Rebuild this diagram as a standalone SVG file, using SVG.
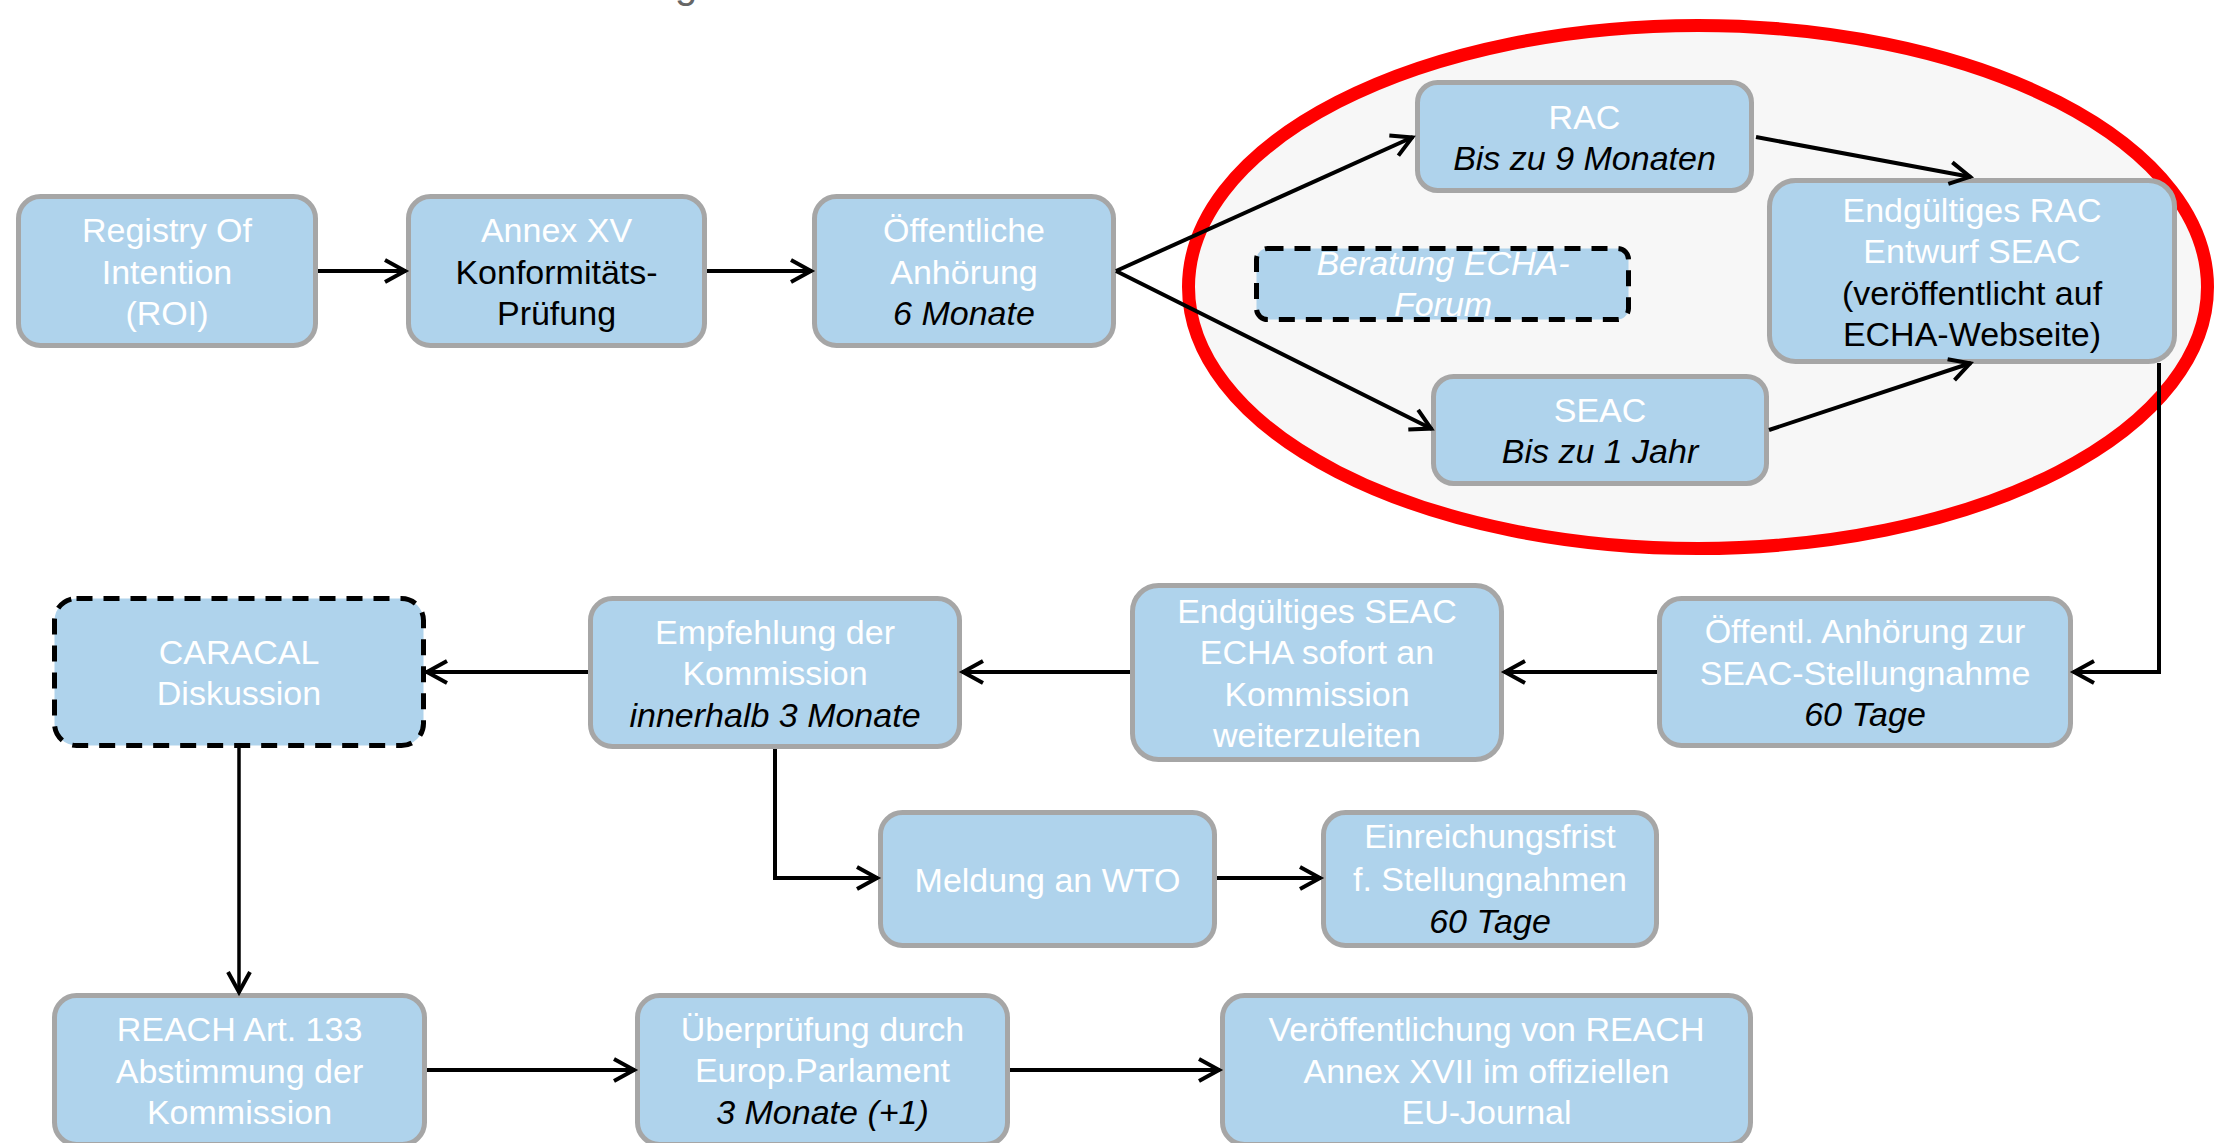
<svg xmlns="http://www.w3.org/2000/svg" width="2216" height="1143" viewBox="0 0 2216 1143">
<style>
.box{fill:#afd3ec;stroke:#a6a6a6;stroke-width:5}
.dbox{fill:#afd3ec;stroke:#000;stroke-width:5;stroke-dasharray:16 11}
text{font-family:"Liberation Sans",Arial,sans-serif;font-size:34px;text-anchor:middle}
.w{fill:#fff}
.k{fill:#000}
.i{font-style:italic}
.c{fill:none;stroke:#000;stroke-width:4;marker-end:url(#ah)}
</style>
<defs>
<marker id="ah" viewBox="-26 -16 32 32" markerWidth="32" markerHeight="32" refX="1" refY="0" orient="auto" markerUnits="userSpaceOnUse">
<path d="M-20,-11 L0,0 L-20,11" fill="none" stroke="#000" stroke-width="4"/>
</marker>
</defs>
<rect width="2216" height="1143" fill="#fff"/>
<text x="686" y="-2" style="font-size:40px;fill:#666">g</text>
<ellipse id="highlight" cx="1698" cy="287" rx="509.5" ry="261.5" fill="#f7f7f7" stroke="#ff0000" stroke-width="13"/>

<g id="roi"><rect class="box" x="18.5" y="196.5" width="297" height="149" rx="22"/>
<text class="w" x="167" y="242">Registry Of</text><text class="w" x="167" y="283.5">Intention</text><text class="w" x="167" y="325">(ROI)</text></g>

<g id="annex"><rect class="box" x="408.5" y="196.5" width="296" height="149" rx="22"/>
<text class="w" x="556.5" y="242">Annex XV</text><text class="k" x="556.5" y="283.5">Konformitäts-</text><text class="k" x="556.5" y="325">Prüfung</text></g>

<g id="oeff"><rect class="box" x="814.5" y="196.5" width="299" height="149" rx="22"/>
<text class="w" x="964" y="242">Öffentliche</text><text class="w" x="964" y="283.5">Anhörung</text><text class="k i" x="964" y="325">6 Monate</text></g>

<g id="rac"><rect class="box" x="1417.5" y="82.5" width="334" height="108" rx="20"/>
<text class="w" x="1584.5" y="128.5">RAC</text><text class="k i" x="1584.5" y="169.5">Bis zu 9 Monaten</text></g>

<g id="beratung"><rect class="dbox" x="1256.5" y="248.5" width="372" height="71" rx="11"/>
<text class="w i" x="1443" y="275">Beratung ECHA-</text><text class="w i" x="1443" y="316">Forum</text></g>

<g id="seac"><rect class="box" x="1433.5" y="376.5" width="333" height="107" rx="20"/>
<text class="w" x="1600" y="421.5">SEAC</text><text class="k i" x="1600" y="463">Bis zu 1 Jahr</text></g>

<g id="final-rac"><rect class="box" x="1769.5" y="180.5" width="405" height="181" rx="26"/>
<text class="w" x="1972" y="221.5">Endgültiges RAC</text><text class="w" x="1972" y="263">Entwurf SEAC</text><text class="k" x="1972" y="304.5">(veröffentlicht auf</text><text class="k" x="1972" y="346">ECHA-Webseite)</text></g>

<g id="caracal"><rect class="dbox" x="54.5" y="598.5" width="369" height="147" rx="22"/>
<text class="w" x="239" y="663.5">CARACAL</text><text class="w" x="239" y="705">Diskussion</text></g>

<g id="empfehlung"><rect class="box" x="590.5" y="598.5" width="369" height="148" rx="22"/>
<text class="w" x="775" y="643.5">Empfehlung der</text><text class="w" x="775" y="685">Kommission</text><text class="k i" x="775" y="726.5">innerhalb 3 Monate</text></g>

<g id="final-seac"><rect class="box" x="1132.5" y="585.5" width="369" height="174" rx="26"/>
<text class="w" x="1317" y="622.5">Endgültiges SEAC</text><text class="w" x="1317" y="664">ECHA sofort an</text><text class="w" x="1317" y="705.5">Kommission</text><text class="w" x="1317" y="747">weiterzuleiten</text></g>

<g id="oeffentl-seac"><rect class="box" x="1659.5" y="598.5" width="411" height="147" rx="22"/>
<text class="w" x="1865" y="643">Öffentl. Anhörung zur</text><text class="w" x="1865" y="684.5">SEAC-Stellungnahme</text><text class="k i" x="1865" y="726">60 Tage</text></g>

<g id="wto"><rect class="box" x="880.5" y="812.5" width="334" height="133" rx="22"/>
<text class="w" x="1047.5" y="891.5">Meldung an WTO</text></g>

<g id="einreichung"><rect class="box" x="1323.5" y="812.5" width="333" height="133" rx="22"/>
<text class="w" x="1490" y="848">Einreichungsfrist</text><text class="w" x="1490" y="891">f. Stellungnahmen</text><text class="k i" x="1490" y="932.5">60 Tage</text></g>

<g id="reach"><rect class="box" x="54.5" y="995.5" width="370" height="149" rx="22"/>
<text class="w" x="239.5" y="1041">REACH Art. 133</text><text class="w" x="239.5" y="1082.5">Abstimmung der</text><text class="w" x="239.5" y="1124">Kommission</text></g>

<g id="ueberpruefung"><rect class="box" x="637.5" y="995.5" width="370" height="149" rx="22"/>
<text class="w" x="822.5" y="1040.5">Überprüfung durch</text><text class="w" x="822.5" y="1082">Europ.Parlament</text><text class="k i" x="822.5" y="1123.5">3 Monate (+1)</text></g>

<g id="veroeffentlichung"><rect class="box" x="1222.5" y="995.5" width="528" height="149" rx="22"/>
<text class="w" x="1486.5" y="1041">Veröffentlichung von REACH</text><text class="w" x="1486.5" y="1082.5">Annex XVII im offiziellen</text><text class="w" x="1486.5" y="1124">EU-Journal</text></g>

<g id="connectors">
<path class="c" d="M318,271 L406,271"/>
<path class="c" d="M707,271 L812,271"/>
<path class="c" d="M1116,271 L1413,137"/>
<path class="c" d="M1116,271 L1432,429"/>
<path class="c" d="M1756,137 L1971,177"/>
<path class="c" d="M1769,430 L1971,363"/>
<path class="c" d="M2159,363 L2159,672 L2073,672"/>
<path class="c" d="M1657,672 L1504,672"/>
<path class="c" d="M1130,672 L962,672"/>
<path class="c" d="M588,672 L426,672"/>
<path class="c" d="M775,749 L775,878 L878,878"/>
<path class="c" d="M1217,878 L1321,878"/>
<path class="c" style="stroke-width:3.5" d="M239,748 L239,993"/>
<path class="c" d="M427,1070 L635,1070"/>
<path class="c" d="M1010,1070 L1220,1070"/>
</g>
</svg>
